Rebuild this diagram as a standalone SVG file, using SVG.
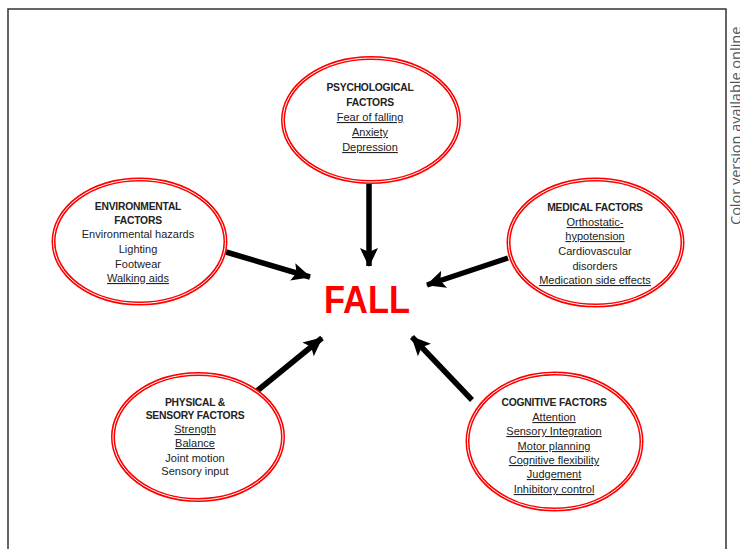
<svg xmlns="http://www.w3.org/2000/svg" width="740" height="549" viewBox="0 0 740 549">
<style>
.ell{fill:#fff;stroke:#f00;stroke-width:4}
.ein{fill:none;stroke:#fff;stroke-width:1}
text{font-family:"Liberation Sans",Arial,sans-serif;text-anchor:middle;fill:#222}
.h{font-size:10.3px;font-weight:bold;letter-spacing:-0.2px}
.t{font-size:11px}
.u{text-decoration:underline}
.arr{stroke:#000;stroke-width:5.5;fill:none;marker-end:url(#ah)}
</style>
<defs>
<marker id="ah" markerUnits="userSpaceOnUse" markerWidth="20" markerHeight="20" viewBox="0 0 20 20" refX="18" refY="10" orient="auto">
<path d="M0,1 L19,10 L0,19 L4,10 Z" fill="#000"/>
</marker>
</defs>
<rect width="740" height="549" fill="#fff"/>
<path d="M8,560 L8,9 L726,9 L726,560" fill="none" stroke="#333" stroke-width="1.5"/>
<text transform="translate(741,225) rotate(-90)" style="text-anchor:start;font-family:'Open Sans','Liberation Sans',sans-serif;font-size:14.5px;fill:#555">Color version available online</text>

<g id="connectors">
<line class="arr" x1="369" y1="184" x2="369" y2="266"/>
<line class="arr" x1="226" y1="252" x2="310" y2="277"/>
<line class="arr" x1="508" y1="258" x2="427" y2="285"/>
<line class="arr" x1="257" y1="391" x2="322" y2="338"/>
<line class="arr" x1="472" y1="400" x2="412" y2="337"/>
</g>

<g id="psychological">
<ellipse class="ell" cx="371" cy="120" rx="88" ry="62"/>
<ellipse class="ein" cx="371" cy="120" rx="88" ry="62"/>
<text class="h" x="370" y="91">PSYCHOLOGICAL</text>
<text class="h" x="370" y="106">FACTORS</text>
<text class="t u" x="370" y="121">Fear of falling</text>
<text class="t u" x="370" y="136">Anxiety</text>
<text class="t u" x="370" y="151">Depression</text>
</g>

<g id="environmental">
<ellipse class="ell" cx="139.5" cy="241.5" rx="86" ry="62"/>
<ellipse class="ein" cx="139.5" cy="241.5" rx="86" ry="62"/>
<text class="h" x="138" y="210">ENVIRONMENTAL</text>
<text class="h" x="138" y="224">FACTORS</text>
<text class="t" x="138" y="238">Environmental hazards</text>
<text class="t" x="138" y="253">Lighting</text>
<text class="t" x="138" y="268">Footwear</text>
<text class="t u" x="138" y="282">Walking aids</text>
</g>

<g id="medical">
<ellipse class="ell" cx="595.5" cy="242.5" rx="87" ry="63"/>
<ellipse class="ein" cx="595.5" cy="242.5" rx="87" ry="63"/>
<text class="h" x="595" y="211">MEDICAL FACTORS</text>
<text class="t u" x="595" y="226">Orthostatic-</text>
<text class="t u" x="595" y="240">hypotension</text>
<text class="t" x="595" y="255">Cardiovascular</text>
<text class="t" x="595" y="270">disorders</text>
<text class="t u" x="595" y="284">Medication side effects</text>
</g>

<g id="physical">
<ellipse class="ell" cx="198" cy="437" rx="85" ry="63"/>
<ellipse class="ein" cx="198" cy="437" rx="85" ry="63"/>
<text class="h" x="195" y="406">PHYSICAL &amp;</text>
<text class="h" x="195" y="419">SENSORY FACTORS</text>
<text class="t u" x="195" y="433">Strength</text>
<text class="t u" x="195" y="447">Balance</text>
<text class="t" x="195" y="462">Joint motion</text>
<text class="t" x="195" y="475">Sensory input</text>
</g>

<g id="cognitive">
<ellipse class="ell" cx="554.5" cy="441.5" rx="87" ry="68"/>
<ellipse class="ein" cx="554.5" cy="441.5" rx="87" ry="68"/>
<text class="h" x="554" y="406">COGNITIVE FACTORS</text>
<text class="t u" x="554" y="421">Attention</text>
<text class="t u" x="554" y="435">Sensory Integration</text>
<text class="t u" x="554" y="450">Motor planning</text>
<text class="t u" x="554" y="464">Cognitive flexibility</text>
<text class="t u" x="554" y="478">Judgement</text>
<text class="t u" x="554" y="493">Inhibitory control</text>
</g>

<g id="fall">
<text x="367" y="313" textLength="86" lengthAdjust="spacingAndGlyphs" style="font-size:39px;font-weight:bold;fill:#f00">FALL</text>
</g>
</svg>
